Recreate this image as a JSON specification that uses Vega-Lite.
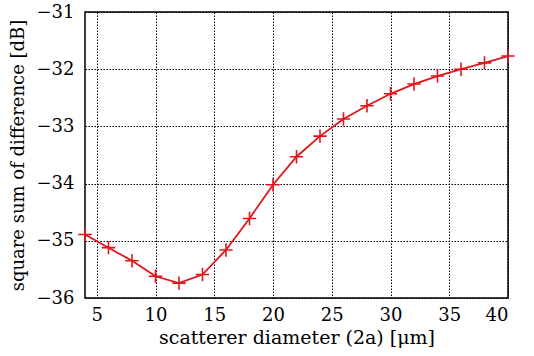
{
  "$schema": "https://vega.github.io/schema/vega-lite/v6.json",
  "width": 423,
  "height": 286,
  "autosize": "none",
  "padding": {"left": 85, "top": 12, "right": 26, "bottom": 58},
  "background": "white",
  "config": {
    "view": {"stroke": "black", "strokeWidth": 1.5},
    "font": "DejaVu Serif",
    "axis": {"labelFont": "DejaVu Serif", "titleFont": "DejaVu Serif"}
  },
  "data": {
    "values": [
      {"d": 4, "v": -34.89},
      {"d": 6, "v": -35.12},
      {"d": 8, "v": -35.35},
      {"d": 10, "v": -35.62},
      {"d": 12, "v": -35.74},
      {"d": 14, "v": -35.59},
      {"d": 16, "v": -35.16},
      {"d": 18, "v": -34.61},
      {"d": 20, "v": -34.02},
      {"d": 22, "v": -33.53},
      {"d": 24, "v": -33.17},
      {"d": 26, "v": -32.87},
      {"d": 28, "v": -32.64},
      {"d": 30, "v": -32.43},
      {"d": 32, "v": -32.26},
      {"d": 34, "v": -32.12},
      {"d": 36, "v": -32.0},
      {"d": 38, "v": -31.89},
      {"d": 40, "v": -31.77}
    ]
  },
  "encoding": {
    "x": {
      "field": "d",
      "type": "quantitative",
      "scale": {"domain": [4, 40], "nice": false, "zero": false},
      "axis": {
        "values": [5, 10, 15, 20, 25, 30, 35, 40],
        "title": "scatterer diameter (2a) [μm]",
        "titleFontSize": 19,
        "titleFontWeight": "normal",
        "titleColor": "black",
        "titlePadding": 4,
        "labelFontSize": 18,
        "labelColor": "black",
        "labelPadding": 8,
        "domain": false,
        "ticks": false,
        "grid": true,
        "gridColor": "black",
        "gridDash": [1.5, 1.5],
        "gridWidth": 1,
        "gridOpacity": 1
      }
    },
    "y": {
      "field": "v",
      "type": "quantitative",
      "scale": {"domain": [-36, -31], "nice": false, "zero": false},
      "axis": {
        "values": [-36, -35, -34, -33, -32, -31],
        "title": "square sum of difference [dB]",
        "titleFontSize": 18,
        "titleFontWeight": "normal",
        "titleColor": "black",
        "titlePadding": 9,
        "labelFontSize": 18,
        "labelColor": "black",
        "labelPadding": 11,
        "domain": false,
        "ticks": false,
        "grid": true,
        "gridColor": "black",
        "gridDash": [1.5, 1.5],
        "gridWidth": 1,
        "gridOpacity": 1
      }
    }
  },
  "layer": [
    {
      "mark": {"type": "line", "color": "#e0151c", "strokeWidth": 1.8}
    },
    {
      "mark": {
        "type": "point",
        "shape": "M-1,0L1,0M0,-1L0,1",
        "size": 180,
        "filled": false,
        "color": "#e0151c",
        "strokeWidth": 1.6,
        "opacity": 1
      }
    }
  ]
}
